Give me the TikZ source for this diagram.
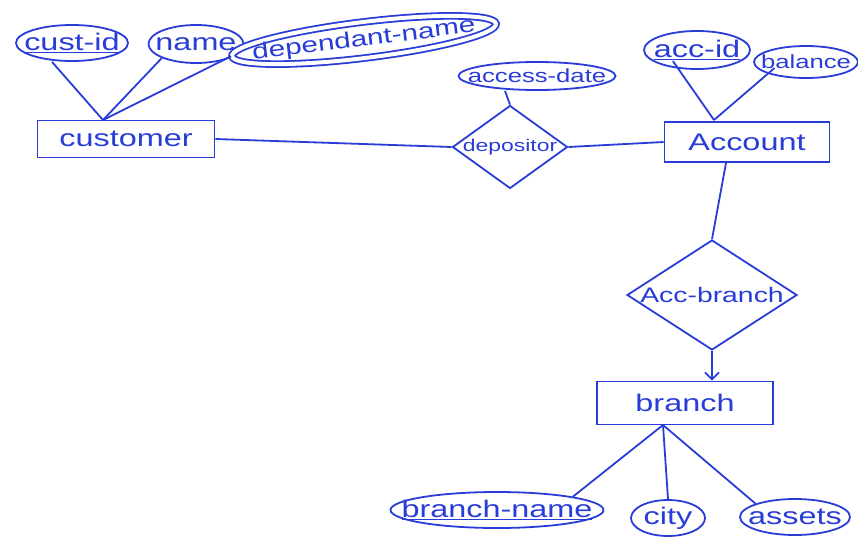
\documentclass[tikz,border=0pt]{standalone}
\usepackage{fontspec}
\setmainfont{Liberation Sans}[FakeStretch=1.35]
\usetikzlibrary{shapes.geometric,arrows.meta}
\definecolor{ink}{RGB}{40,60,215}
\newcommand{\zt}[1]{\makebox[0pt]{#1}}
\tikzset{
  every node/.style={text=ink, font=\fontsize{24}{27}\selectfont},
  entity/.style={draw=ink, line width=1.8pt, rectangle, inner sep=0pt},
  attr/.style={draw=ink, line width=1.8pt, ellipse, inner sep=0pt},
  rel/.style={draw=ink, line width=1.8pt, diamond, inner sep=0pt, aspect=1.4},
  link/.style={draw=ink, line width=1.8pt},
}
\begin{document}
\begin{tikzpicture}[x=1pt,y=-1pt]
\useasboundingbox (0,0) rectangle (858,538);
% entities
\node[entity, minimum width=177pt, minimum height=37pt] (cust) at (126,139) {\zt{customer}};
\node[entity, minimum width=165pt, minimum height=40pt] (acc) at (747,142) {\zt{Account}};
\node[entity, minimum width=176pt, minimum height=43pt] (br) at (685,403) {\zt{branch}};
% relationships
\node[rel, minimum width=115pt, minimum height=83pt] (dep) at (510,147) {\zt{\fontsize{17}{20}\selectfont depositor}};
\node[rel, minimum width=170pt, minimum height=110pt] (ab) at (712,295) {\zt{\fontsize{21}{24}\selectfont Acc-branch}};
% attributes
\node[attr, minimum width=112pt, minimum height=36pt] (cid) at (72,43) {\zt{\underline{cust-id}}};
\node[attr, minimum width=95pt, minimum height=38pt] (nm) at (196,44) {\zt{name}};
\node[attr, minimum width=266pt, minimum height=36pt, rotate=7, double=white, double distance=4pt] (dn) at (364,40) {\zt{\fontsize{22}{25}\selectfont dependant-name}};
\node[attr, minimum width=157pt, minimum height=28pt] (ad) at (537,76) {\zt{\fontsize{19}{21}\selectfont access-date}};
\node[attr, minimum width=106pt, minimum height=38pt] (aid) at (697,50) {\zt{\underline{acc-id}}};
\node[attr, minimum width=104pt, minimum height=32pt] (bal) at (806,62) {\zt{\fontsize{19}{21}\selectfont balance}};
\node[attr, minimum width=213pt, minimum height=36pt] (bn) at (497,510) {\zt{\underline{branch-name}}};
\node[attr, minimum width=74pt, minimum height=36pt] (city) at (668,518) {\zt{city}};
\node[attr, minimum width=110pt, minimum height=36pt] (ast) at (795,517) {\zt{assets}};
% anchor points
\coordinate (ct) at (103,120);
\coordinate (at) at (714,120);
\coordinate (bb) at (663,425);
% connectors
\draw[link] (cid.south) ++(-20,0) -- (ct);
\draw[link] (nm.south west) -- (ct);
\draw[link] (dn.west) -- (ct);
\draw[link] (cust.east) -- (dep.west);
\draw[link] (dep.east) -- (acc.west);
\draw[link] (ad.south) ++(-32,0) -- (dep.north);
\draw[link] (aid.south west) ++(14,-3) -- (at);
\draw[link] (bal.south west) ++(6,-6) -- (at);
\draw[link] (acc.south) ++(-21,0) -- (ab.north);
\draw[link, -{Straight Barb[length=7pt,width=14pt]}] (ab.south) -- (ab.south |- br.north);
\draw[link] (bb) -- (bn.north east);
\draw[link] (bb) -- (city.north);
\draw[link] (bb) -- (ast.north west);
\end{tikzpicture}
\end{document}
